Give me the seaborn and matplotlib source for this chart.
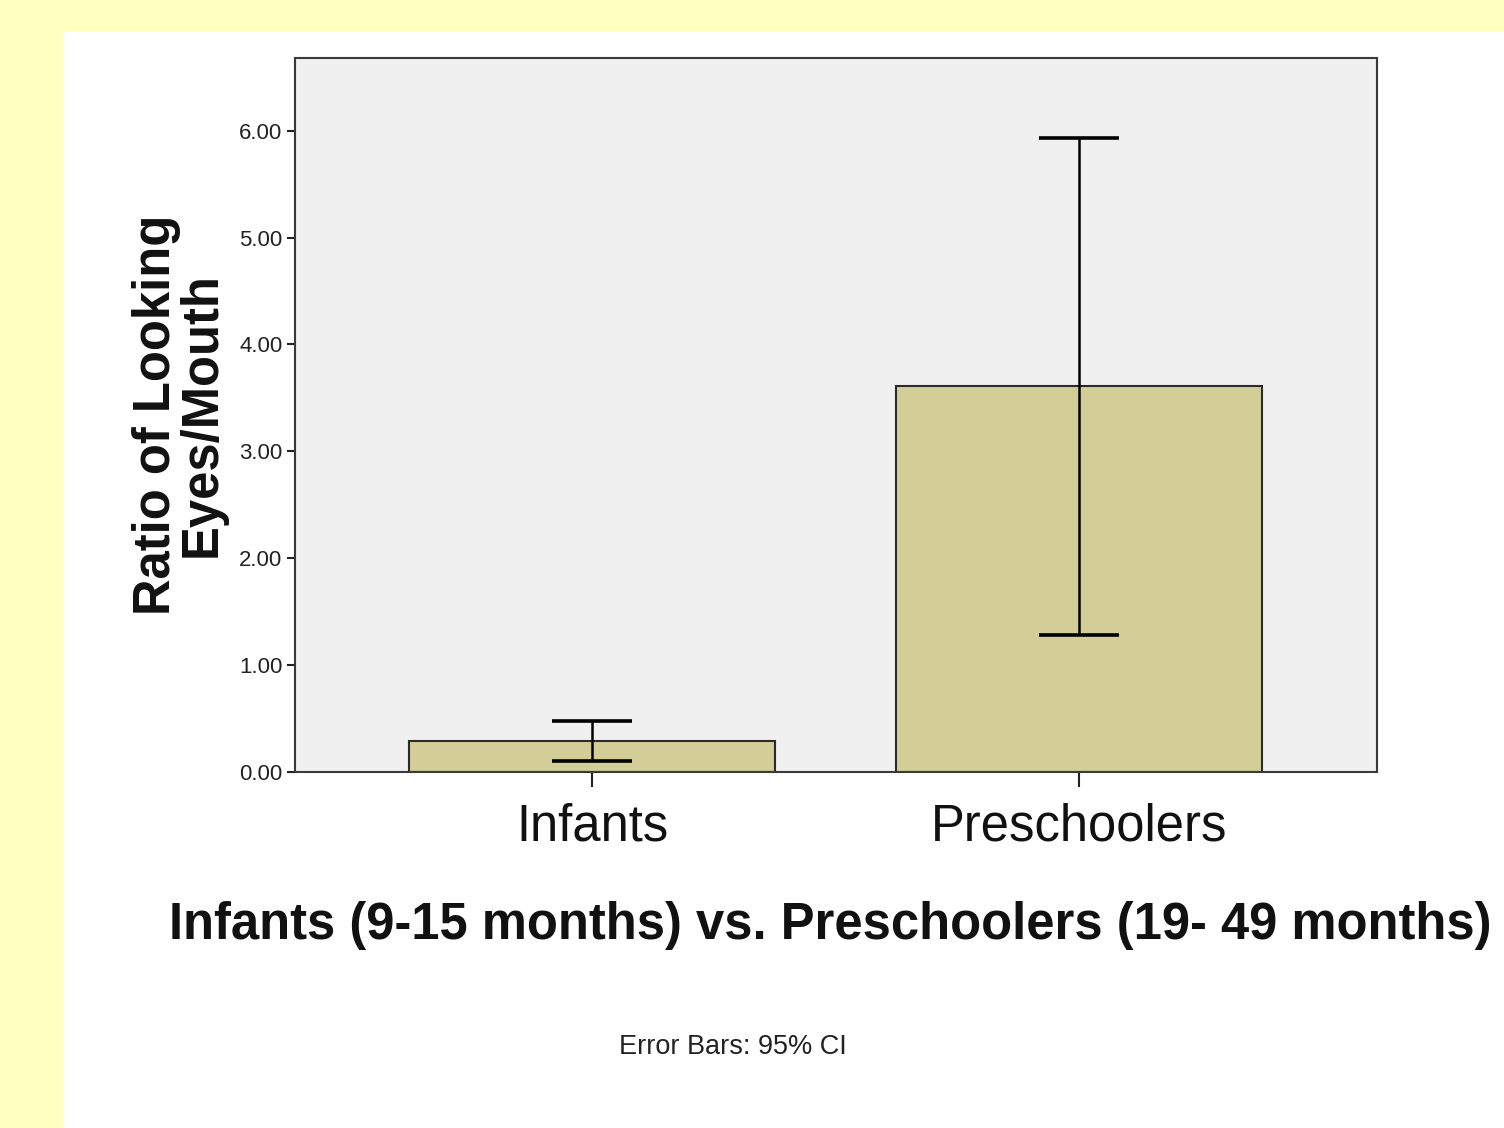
import numpy as np
import pandas as pd
import matplotlib
matplotlib.use("Agg")
import matplotlib.pyplot as plt
import seaborn as sns

# ── Data ───────────────────────────────────────────────────────────────────
groups  = ["Infants", "Preschoolers"]
means   = [0.29, 3.61]
ci_low  = [0.10, 1.28]
ci_high = [0.48, 5.93]
yticks  = [0.0, 1.0, 2.0, 3.0, 4.0, 5.0, 6.0]

BG_YELLOW = "#FFFFC0"
PANEL_BG  = "#F0F0F0"
BAR_COLOR = "#D3CE97"
EDGE      = "#2b2b2b"

sns.set_theme(style="white")
plt.rcParams["font.family"] = ["Liberation Sans", "DejaVu Sans"]

df = pd.DataFrame({"group": groups, "ratio": means})

fig = plt.figure(figsize=(15.04, 11.28), dpi=100, facecolor=BG_YELLOW)
# white slide panel
fig.patches.append(plt.Rectangle((63/1504, 0), 1 - 63/1504, 1 - 32/1128,
                                 transform=fig.transFigure, facecolor="white",
                                 edgecolor="none", zorder=-10))
ax = fig.add_axes([295/1504, 1 - 772/1128, (1377 - 295)/1504, (772 - 58)/1128])
ax.set_facecolor(PANEL_BG)

sns.barplot(data=df, x="group", y="ratio", ax=ax, color=BAR_COLOR,
            width=0.75, errorbar=None, edgecolor=EDGE, linewidth=1.5,
            saturation=1)

x = np.arange(len(groups))
m = np.array(means)
yerr = [m - np.array(ci_low), np.array(ci_high) - m]
ax.errorbar(x, m, yerr=yerr, fmt="none", ecolor="black", elinewidth=1.8,
            capsize=28.8, capthick=2.6, zorder=5)

ax.set_xlim(-0.61, 1.612)
ax.set_ylim(0, 6.68)
ax.set_yticks(yticks)
ax.set_yticklabels([f"{v:.2f}" for v in yticks], fontsize=16, color="#222222")
ax.set_xticklabels(groups, fontsize=36.5, color="#111111")

ax.tick_params(axis="y", direction="out", length=6, width=1.5, color="#222222",
               left=True, pad=3)
ax.tick_params(axis="x", direction="out", length=11, width=1.5, color="#222222",
               bottom=True, pad=11)
for sp in ax.spines.values():
    sp.set_visible(True)
    sp.set_color("#3a3a3a")
    sp.set_linewidth(1.5)

ax.set_ylabel("Ratio of Looking\nEyes/Mouth", fontsize=36.5, fontweight="bold",
              linespacing=0.9, labelpad=9, color="#111111")
ax.set_xlabel("")

fig.text(830/1504, 1 - 925/1128,
         "Infants (9-15 months) vs. Preschoolers (19- 49 months)",
         ha="center", va="center", fontsize=36.5, fontweight="bold",
         color="#111111")
fig.text(733/1504, 1 - 1047/1128, "Error Bars: 95% CI", ha="center",
         va="center", fontsize=19.5, color="#222222")

fig.savefig("out.png", dpi=100, facecolor=BG_YELLOW)
